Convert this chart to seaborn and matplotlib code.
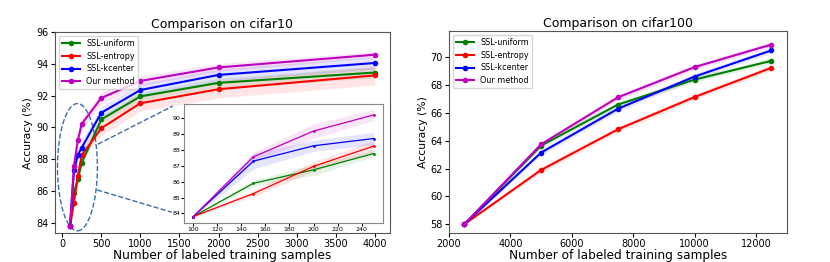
import numpy as np
import pandas as pd
import matplotlib
matplotlib.use("Agg")
import matplotlib.pyplot as plt
import seaborn as sns
from matplotlib.patches import Ellipse

# cifar10 results
c10_samples = [100, 150, 200, 250, 500, 1000, 2000, 4000]
c10_uniform = [83.8, 85.9, 86.75, 87.78, 90.5, 91.95, 92.8, 93.45]
c10_entropy = [83.8, 85.25, 86.97, 88.25, 89.95, 91.52, 92.4, 93.27]
c10_kcenter = [83.8, 87.3, 88.27, 88.73, 90.92, 92.35, 93.3, 94.05]
c10_ours = [83.8, 87.57, 89.2, 90.22, 91.85, 92.92, 93.77, 94.57]
c10_uniform_std = [0.05, 0.2, 0.35, 0.2, 0.25, 0.25, 0.3, 0.35]
c10_entropy_std = [0.05, 0.2, 0.3, 0.35, 0.45, 0.5, 0.55, 0.6]
c10_kcenter_std = [0.05, 0.5, 0.35, 0.4, 0.4, 0.4, 0.4, 0.4]
c10_ours_std = [0.05, 0.3, 0.45, 0.35, 0.35, 0.3, 0.25, 0.2]

# cifar100 results
c100_samples = [2500, 5000, 7500, 10000, 12500]
c100_uniform = [58.0, 63.65, 66.6, 68.4, 69.75]
c100_entropy = [58.0, 61.9, 64.82, 67.15, 69.25]
c100_kcenter = [58.0, 63.15, 66.3, 68.62, 70.5]
c100_ours = [58.0, 63.75, 67.12, 69.3, 70.92]
c100_std = [0.05, 0.2, 0.2, 0.2, 0.2]

methods = ["SSL-uniform", "SSL-entropy", "SSL-kcenter", "Our method"]
colors = ["g", "r", "b", "m"]


def draw(ax, x, ys, stds, lw=1.5, ms=4):
    for name, col, y, s in zip(methods, colors, ys, stds):
        df = pd.DataFrame({"x": x, "y": y})
        sns.lineplot(data=df, x="x", y="y", ax=ax, color=col, marker="o",
                     markersize=ms, markeredgewidth=0, linewidth=lw, label=name)
        y = np.array(y)
        s = np.array(s)
        ax.fill_between(x, y - s, y + s, color=col, alpha=0.1, linewidth=0)


fig = plt.figure(figsize=(8.3, 2.62), dpi=100)
ax1 = fig.add_axes([0.066, 0.11, 0.404, 0.768])
ax2 = fig.add_axes([0.541, 0.11, 0.407, 0.772])

draw(ax1, c10_samples, [c10_uniform, c10_entropy, c10_kcenter, c10_ours],
     [c10_uniform_std, c10_entropy_std, c10_kcenter_std, c10_ours_std])
ax1.set_ylim(83.35, 96)
ax1.set_yticks([84, 86, 88, 90, 92, 94, 96])
ax1.set_xticks(range(0, 4001, 500))
ax1.set_title("Comparison on cifar10", fontsize=9, pad=3)

draw(ax2, c100_samples, [c100_uniform, c100_entropy, c100_kcenter, c100_ours],
     [c100_std] * 4)
ax2.set_ylim(57.35, 71.9)
ax2.set_yticks([58, 60, 62, 64, 66, 68, 70])
ax2.set_title("Comparison on cifar100", fontsize=9, pad=3)

for ax in (ax1, ax2):
    ax.set_xlabel("Number of labeled training samples", fontsize=8.7, labelpad=0)
    ax.set_ylabel("Accuracy (%)", fontsize=7.8, labelpad=2)
    ax.tick_params(labelsize=7, length=3, pad=1.5)
    ax.legend(loc="upper left", fontsize=5.8, handlelength=2.2, borderpad=0.4,
              labelspacing=0.45)
    for sp in ax.spines.values():
        sp.set_color("#555555")

# zoom ellipse and guides
ax1.add_patch(Ellipse((195, 87.5), 510, 8.0, fill=False, ls="--",
                      edgecolor="#3a6bb0", lw=1, clip_on=False))

axin = fig.add_axes([0.222, 0.15, 0.239, 0.453])
draw(axin, c10_samples[:4], [c10_uniform[:4], c10_entropy[:4], c10_kcenter[:4], c10_ours[:4]],
     [c10_uniform_std[:4], c10_entropy_std[:4], c10_kcenter_std[:4], c10_ours_std[:4]],
     lw=0.9, ms=2)
axin.legend_.remove()
axin.set_xlabel("")
axin.set_ylabel("")
axin.set_xticks(range(100, 241, 20))
axin.set_yticks(range(84, 91))
axin.tick_params(labelsize=4.5, length=2, pad=1)
for sp in axin.spines.values():
    sp.set_color("#888888")

fig.add_artist(plt.Line2D([0.118, 0.208], [0.45, 0.595], ls="--", color="#3a6bb0",
                          lw=1, transform=fig.transFigure))
fig.add_artist(plt.Line2D([0.117, 0.207], [0.275, 0.19], ls="--", color="#3a6bb0",
                          lw=1, transform=fig.transFigure))

fig.savefig("out.png", dpi=100)
